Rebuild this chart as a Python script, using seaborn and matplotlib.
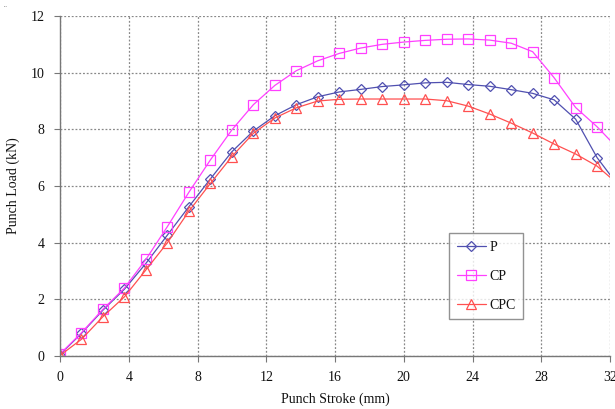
import numpy as np
import pandas as pd
import matplotlib
matplotlib.use("Agg")
import matplotlib.pyplot as plt
import seaborn as sns

stroke = [0, 1.25, 2.5, 3.75, 5, 6.25, 7.5, 8.75, 10, 11.25, 12.5, 13.75, 15,
          16.25, 17.5, 18.75, 20, 21.25, 22.5, 23.75, 25, 26.25, 27.5, 28.75,
          30, 31.25, 32.5]
load_p = [0.05, 0.80, 1.62, 2.36, 3.27, 4.27, 5.27, 6.25, 7.21, 7.94, 8.48,
          8.87, 9.15, 9.32, 9.41, 9.51, 9.57, 9.64, 9.66, 9.58, 9.52, 9.40,
          9.27, 9.04, 8.36, 7.00, 6.00]
load_cp = [0.07, 0.82, 1.65, 2.40, 3.41, 4.57, 5.78, 6.92, 7.98, 8.87, 9.55,
           10.07, 10.42, 10.68, 10.87, 11.00, 11.08, 11.14, 11.18, 11.19,
           11.15, 11.04, 10.74, 9.82, 8.77, 8.09, 7.30]
load_cpc = [0.02, 0.59, 1.39, 2.09, 3.04, 4.00, 5.11, 6.09, 7.04, 7.86, 8.40,
            8.76, 9.00, 9.06, 9.07, 9.07, 9.07, 9.07, 9.01, 8.82, 8.54, 8.22,
            7.87, 7.48, 7.13, 6.70, 6.05]
series = ["P", "CP", "CPC"]
colors = {"P": "#5050b0", "CP": "#ff40ff", "CPC": "#ff5050"}
markers = {"P": "D", "CP": "s", "CPC": "^"}
msizes = {"P": 5.5, "CP": 7, "CPC": 7.5}

df = pd.concat([
    pd.DataFrame({"Punch Stroke (mm)": stroke, "Punch Load (kN)": v, "Series": s})
    for s, v in zip(series, [load_p, load_cp, load_cpc])
], ignore_index=True)

sns.set_theme(style="white")
plt.rcParams["font.family"] = ["Liberation Serif", "DejaVu Serif"]

fig = plt.figure(figsize=(6.15, 4.09), dpi=100)
ax = fig.add_axes([60 / 615, 1 - 356 / 409, 550 / 615, 340 / 409])

for s in series:
    sub = df[df["Series"] == s]
    sns.lineplot(data=sub, x="Punch Stroke (mm)", y="Punch Load (kN)", ax=ax,
                 color=colors[s], linewidth=0.9, marker=markers[s],
                 markersize=msizes[s], markerfacecolor="none",
                 markeredgecolor=colors[s], markeredgewidth=0.9,
                 label=s, sort=False, estimator=None)

ax.set_xlim(0, 32)
ax.set_ylim(0, 12)
ax.set_xticks(np.arange(0, 33, 4))
ax.set_yticks(np.arange(0, 13, 2))
ax.grid(True, color="#888888", linestyle=(0, (1.5, 1.5)), linewidth=0.9)
for side in ["top", "right"]:
    ax.spines[side].set_visible(False)
for side in ["left", "bottom"]:
    ax.spines[side].set_color("#777777")
    ax.spines[side].set_linewidth(1.0)
ax.tick_params(axis="both", direction="out", length=4, width=0.8,
               color="#777777", labelsize=10, labelcolor="#111111", pad=7,
               bottom=True, left=True)
ax.set_xlabel("Punch Stroke (mm)", fontsize=10, color="#111111", labelpad=6)
ax.set_ylabel("Punch Load (kN)", fontsize=10, color="#111111", labelpad=8)

leg = ax.legend(loc="upper left", bbox_to_anchor=(389 / 550, (356 - 233) / 340),
                borderaxespad=0, fontsize=10, frameon=True, fancybox=False,
                labelspacing=1.15, handlelength=2.1, borderpad=0.55,
                handletextpad=0.25)
leg.get_frame().set_edgecolor("#777777")
leg.get_frame().set_linewidth(1.0)
for t in leg.get_texts():
    t.set_color("#111111")

fig.text(4 / 615, 1 - 11 / 409, "\u00a8", fontsize=6, color="#555555")

fig.savefig("out.png", dpi=100)
